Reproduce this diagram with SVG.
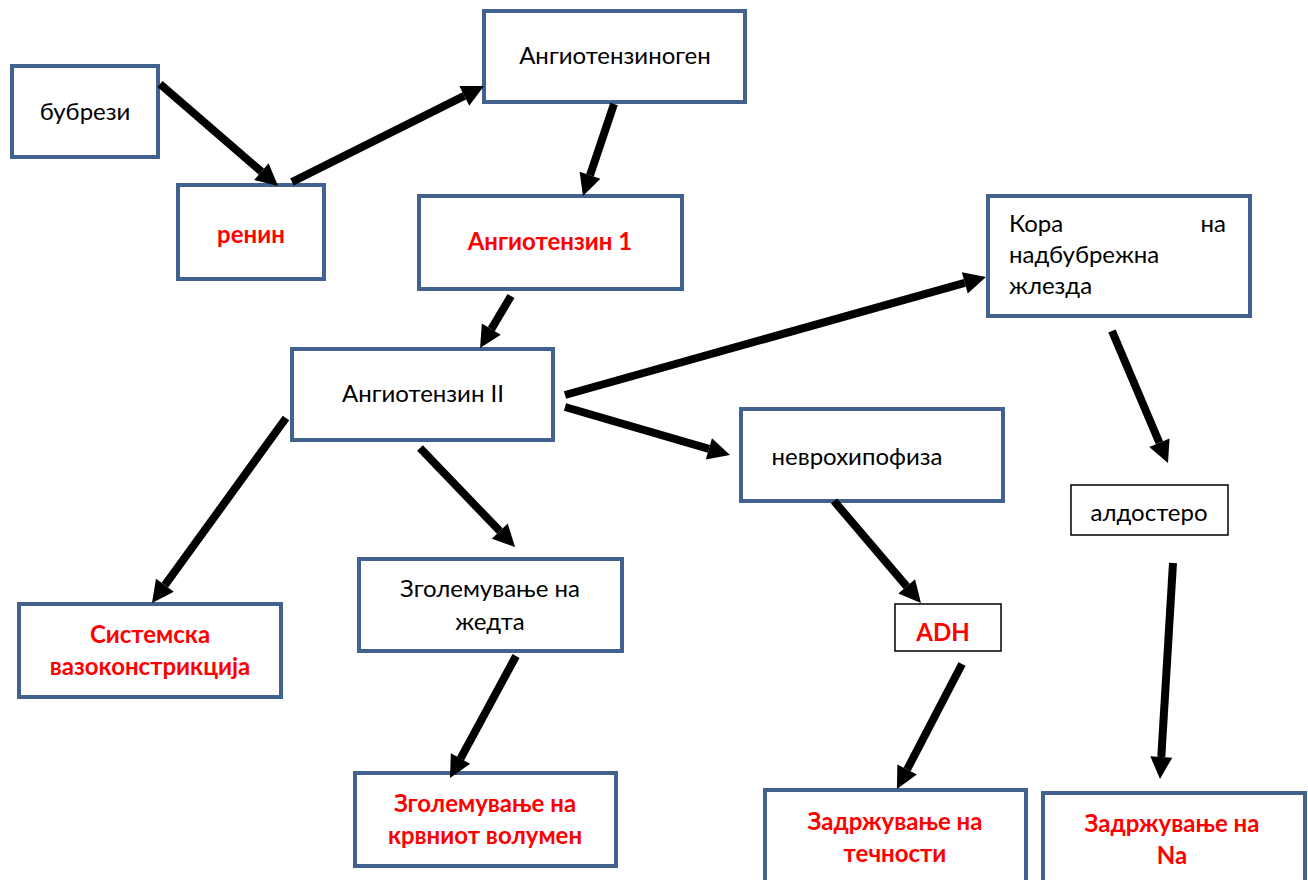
<svg xmlns="http://www.w3.org/2000/svg" width="1308" height="880" viewBox="0 0 1308 880">
<style>
.box{fill:#fff;stroke:#41628E;stroke-width:4}
.thin{fill:#fff;stroke:#000;stroke-width:1.5}
.t{font-family:Lato,"Liberation Sans",sans-serif;font-size:24px;fill:#000;text-anchor:middle}
.r{font-family:Lato,"Liberation Sans",sans-serif;font-size:24px;font-weight:bold;fill:#FF0000;text-anchor:middle}
.c line{stroke:#000;stroke-width:8;marker-end:url(#ah)}
</style>
<defs>
<marker id="ah" markerUnits="userSpaceOnUse" markerWidth="24" markerHeight="24" refX="0" refY="11" orient="auto" overflow="visible">
<path d="M0,0 L22,11 L0,22 z" fill="#000"/>
</marker>
</defs>
<rect width="1308" height="880" fill="#fff"/>
<g id="n1"><rect class="box" x="12" y="66" width="146" height="91"/><text class="t" x="85" y="120">бубрези</text></g>
<g id="n2"><rect class="box" x="178" y="185" width="146" height="94"/><text class="r" x="251" y="243">ренин</text></g>
<g id="n3"><rect class="box" x="484" y="11" width="261" height="91"/><text class="t" x="615" y="64">Ангиотензиноген</text></g>
<g id="n4"><rect class="box" x="419" y="196" width="263" height="93"/><text class="r" x="550" y="250">Ангиотензин 1</text></g>
<g id="n5"><rect class="box" x="292" y="349" width="261" height="91"/><text class="t" x="423" y="402">Ангиотензин II</text></g>
<g id="n6"><rect class="box" x="988" y="196" width="262" height="120"/>
<text class="t" x="1009" y="232" style="text-anchor:start">Кора</text>
<text class="t" x="1226" y="232" style="text-anchor:end">на</text>
<text class="t" x="1009" y="263" style="text-anchor:start">надбубрежна</text>
<text class="t" x="1009" y="294" style="text-anchor:start">жлезда</text></g>
<g id="n7"><rect class="box" x="741" y="409" width="262" height="92"/><text class="t" x="857" y="465">неврохипофиза</text></g>
<g id="n8"><rect class="thin" x="1071" y="485" width="157" height="50"/><text class="t" x="1149" y="521">алдостеро</text></g>
<g id="n9"><rect class="box" x="19" y="604" width="262" height="93"/><text class="r" x="150" y="643">Системска</text><text class="r" x="150" y="675">вазоконстрикција</text></g>
<g id="n10"><rect class="box" x="359" y="559" width="263" height="92"/><text class="t" x="490" y="597">Зголемување на</text><text class="t" x="490" y="630">жедта</text></g>
<g id="n11"><rect class="thin" x="895" y="604" width="106" height="47"/><text class="r" x="943" y="641">ADH</text></g>
<g id="n12"><rect class="box" x="355" y="773" width="261" height="93"/><text class="r" x="485" y="812">Зголемување на</text><text class="r" x="485" y="844">крвниот волумен</text></g>
<g id="n13"><rect class="box" x="765" y="790" width="261" height="100"/><text class="r" x="895" y="830">Задржување на</text><text class="r" x="895" y="862">течности</text></g>
<g id="n14"><rect class="box" x="1043" y="793" width="262" height="100"/><text class="r" x="1172" y="832">Задржување на</text><text class="r" x="1172" y="864">Na</text></g>
<g id="connectors" class="c">
<line x1="160" y1="84" x2="261.4" y2="171.6"/>
<line x1="292" y1="182" x2="464.3" y2="95.8"/>
<line x1="614" y1="104" x2="590" y2="175.2"/>
<line x1="511" y1="296" x2="491.3" y2="329.1"/>
<line x1="565" y1="395" x2="964.8" y2="282.9"/>
<line x1="565" y1="407" x2="708.9" y2="448.9"/>
<line x1="286" y1="418" x2="164.9" y2="585.2"/>
<line x1="420" y1="448" x2="499.8" y2="531.1"/>
<line x1="1112" y1="331" x2="1159.4" y2="442.7"/>
<line x1="834" y1="501" x2="906.7" y2="586.3"/>
<line x1="516" y1="656" x2="460.5" y2="758.6"/>
<line x1="962" y1="664" x2="907.1" y2="769.5"/>
<line x1="1173" y1="563" x2="1161.3" y2="757"/>
</g>
</svg>
